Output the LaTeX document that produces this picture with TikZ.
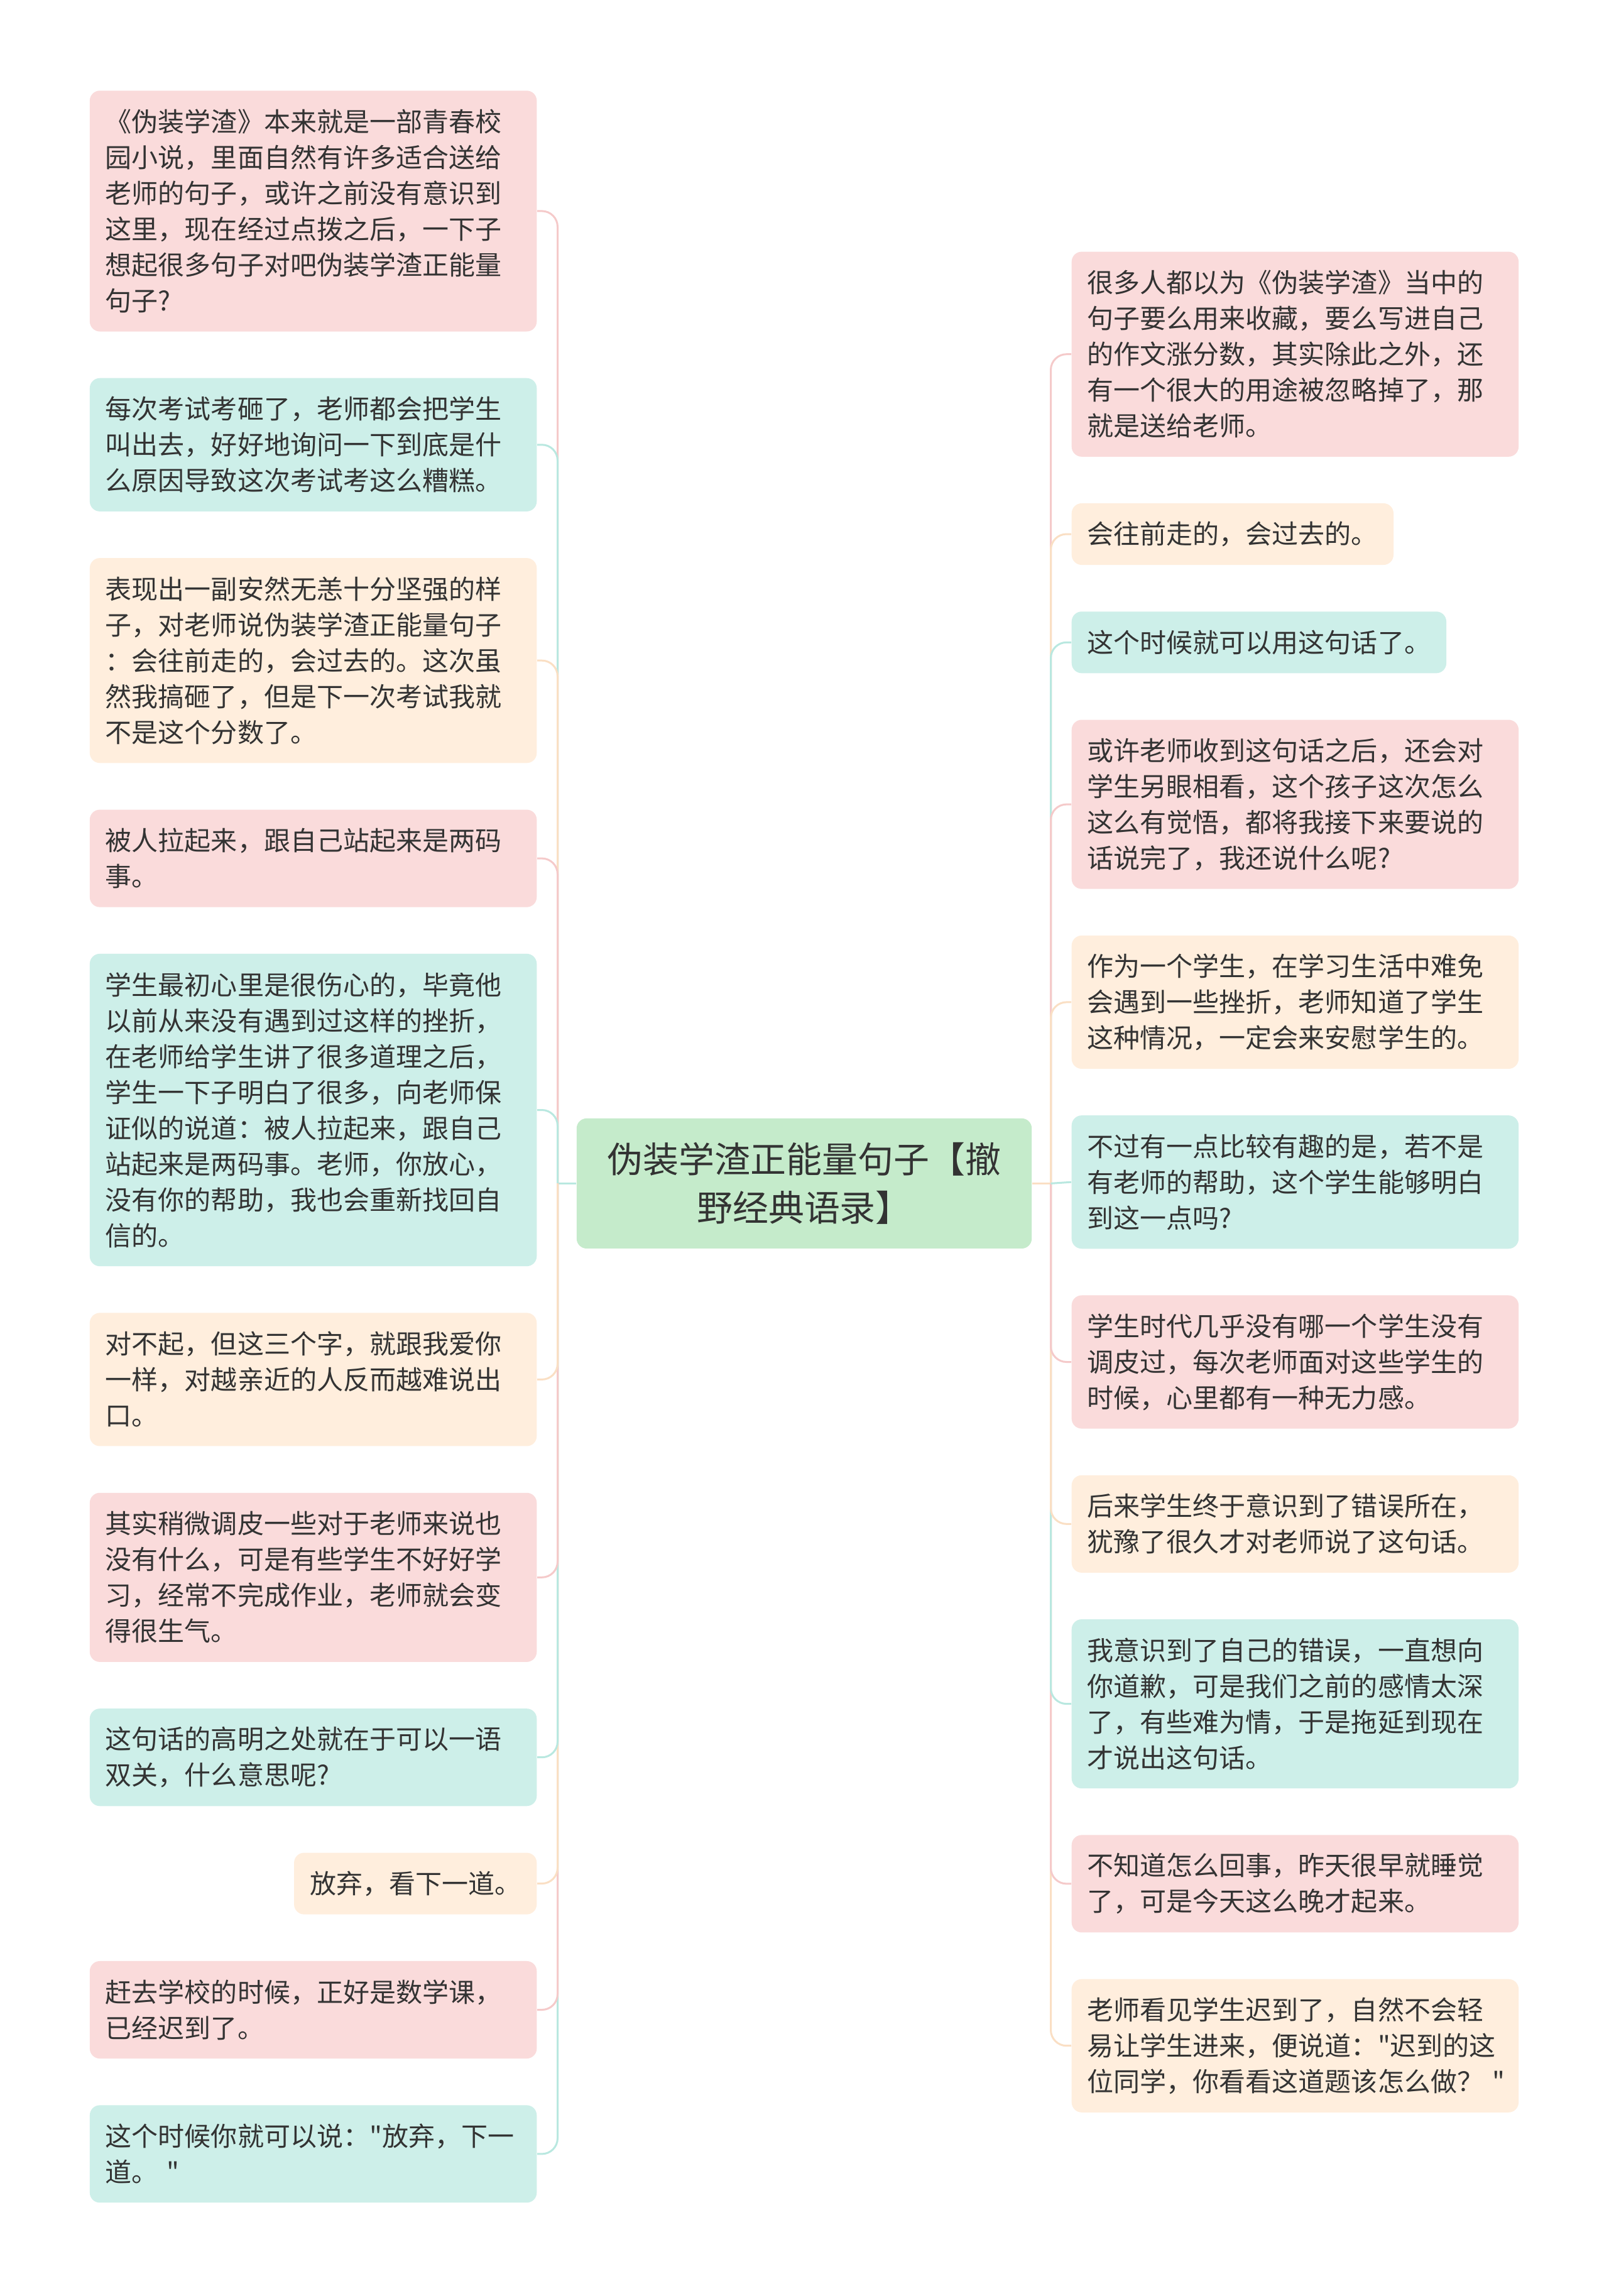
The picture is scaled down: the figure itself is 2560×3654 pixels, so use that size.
\documentclass[tikz,border=0pt]{standalone}
\usepackage{fontspec}
\setmainfont{Noto Sans CJK SC}[Ligatures=TeXOff]
\definecolor{pinkfill}{HTML}{FADBDB}
\definecolor{cyanfill}{HTML}{CDEFE9}
\definecolor{peachfill}{HTML}{FFEEDD}
\definecolor{centerfill}{HTML}{C5EBCB}
\definecolor{pinkline}{HTML}{F5CACA}
\definecolor{cyanline}{HTML}{B9E8E0}
\definecolor{peachline}{HTML}{FADFC4}
\definecolor{txt}{HTML}{333333}
\begin{document}
\begin{tikzpicture}[x=0.01cm,y=-0.01cm,
  box/.style={rectangle, rounded corners=0.16cm, inner xsep=0.25cm, inner ysep=0pt,
    text=txt, align=left, font=\fontsize{11.95}{16.2}\selectfont},
  wide/.style={box, text width=6.61cm},
  nl/.style={minimum height={#1*0.57cm+0.41cm}},
  pk/.style={fill=pinkfill}, cy/.style={fill=cyanfill}, pc/.style={fill=peachfill},
  lft/.style={anchor=east}, rgt/.style={anchor=west},
  conn/.style={line width=0.03cm, rounded corners=0.25cm},
  cpk/.style={conn, draw=pinkline}, ccy/.style={conn, draw=cyanline}, cpc/.style={conn, draw=peachline},
  centerbox/.style={rectangle, rounded corners=0.16cm, fill=centerfill, text=txt, align=center,
    minimum width=7.24cm, minimum height=2.07cm, inner sep=0pt,
    font=\fontsize{16.2}{21.9}\selectfont}
]
\useasboundingbox (0,0) rectangle (2560,3654);
\fill[white] (0,0) rectangle (2560,3654);

% center
\node[centerbox] (C) at (1280,1883.4) {伪装学渣正能量句子【撤\\野经典语录】};
\coordinate (jl) at (887.5,1883.4);
\coordinate (jr) at (1672.5,1883.4);

% left nodes
\node[wide,pk,nl=6,lft] (L1) at (855,335.9) {《伪装学渣》本来就是一部青春校\\园小说，里面自然有许多适合送给\\老师的句子，或许之前没有意识到\\这里，现在经过点拨之后，一下子\\想起很多句子对吧伪装学渣正能量\\句子?};
\node[wide,cy,nl=3,lft] (L2) at (855,707.8) {每次考试考砸了，老师都会把学生\\叫出去，好好地询问一下到底是什\\么原因导致这次考试考这么糟糕。};
\node[wide,pc,nl=5,lft] (L3) at (855,1051.2) {表现出一副安然无恙十分坚强的样\\子，对老师说伪装学渣正能量句子\\：会往前走的，会过去的。这次虽\\然我搞砸了，但是下一次考试我就\\不是这个分数了。};
\node[wide,pk,nl=2,lft] (L4) at (855,1366.1) {被人拉起来，跟自己站起来是两码\\事。};
\node[wide,cy,nl=8,lft] (L5) at (855,1766.5) {学生最初心里是很伤心的，毕竟他\\以前从来没有遇到过这样的挫折，\\在老师给学生讲了很多道理之后，\\学生一下子明白了很多，向老师保\\证似的说道：被人拉起来，跟自己\\站起来是两码事。老师，你放心，\\没有你的帮助，我也会重新找回自\\信的。};
\node[wide,pc,nl=3,lft] (L6) at (855,2195.4) {对不起，但这三个字，就跟我爱你\\一样，对越亲近的人反而越难说出\\口。};
\node[wide,pk,nl=4,lft] (L7) at (855,2510.3) {其实稍微调皮一些对于老师来说也\\没有什么，可是有些学生不好好学\\习，经常不完成作业，老师就会变\\得很生气。};
\node[wide,cy,nl=2,lft] (L8) at (855,2796.7) {这句话的高明之处就在于可以一语\\双关，什么意思呢?};
\node[box,pc,nl=1,lft] (L9) at (855,2997.6) {放弃，看下一道。};
\node[wide,pk,nl=2,lft] (L10) at (855,3198.5) {赶去学校的时候，正好是数学课，\\已经迟到了。};
\node[wide,cy,nl=2,lft] (L11) at (855,3427.9) {这个时候你就可以说："放弃，下一\\道。~"};

% right nodes
\node[wide,pk,nl=5,rgt] (R1) at (1705,563.7) {很多人都以为《伪装学渣》当中的\\句子要么用来收藏，要么写进自己\\的作文涨分数，其实除此之外，还\\有一个很大的用途被忽略掉了，那\\就是送给老师。};
\node[box,pc,nl=1,rgt] (R2) at (1705,850) {会往前走的，会过去的。};
\node[box,cy,nl=1,rgt] (R3) at (1705,1022.3) {这个时候就可以用这句话了。};
\node[wide,pk,nl=4,rgt] (R4) at (1705,1280.1) {或许老师收到这句话之后，还会对\\学生另眼相看，这个孩子这次怎么\\这么有觉悟，都将我接下来要说的\\话说完了，我还说什么呢?};
\node[wide,pc,nl=3,rgt] (R5) at (1705,1594.9) {作为一个学生，在学习生活中难免\\会遇到一些挫折，老师知道了学生\\这种情况，一定会来安慰学生的。};
\node[wide,cy,nl=3,rgt] (R6) at (1705,1881.2) {不过有一点比较有趣的是，若不是\\有老师的帮助，这个学生能够明白\\到这一点吗?};
\node[wide,pk,nl=3,rgt] (R7) at (1705,2167.5) {学生时代几乎没有哪一个学生没有\\调皮过，每次老师面对这些学生的\\时候，心里都有一种无力感。};
\node[wide,pc,nl=2,rgt] (R8) at (1705,2425.3) {后来学生终于意识到了错误所在，\\犹豫了很久才对老师说了这句话。};
\node[wide,cy,nl=4,rgt] (R9) at (1705,2711.6) {我意识到了自己的错误，一直想向\\你道歉，可是我们之前的感情太深\\了，有些难为情，于是拖延到现在\\才说出这句话。};
\node[wide,pk,nl=2,rgt] (R10) at (1705,2997.9) {不知道怎么回事，昨天很早就睡觉\\了，可是今天这么晚才起来。};
\node[wide,pc,nl=3,rgt] (R11) at (1705,3255.7) {老师看见学生迟到了，自然不会轻\\易让学生进来，便说道："迟到的这\\位同学，你看看这道题该怎么做？~"};

% connectors left
\draw[ccy] (C.west) -- (jl);
\draw[cpk] (jl) |- (L1.east);
\draw[ccy] (jl) |- (L2.east);
\draw[cpc] (jl) |- (L3.east);
\draw[cpk] (jl) |- (L4.east);
\draw[ccy] (jl) |- (L5.east);
\draw[ccy] (jl) |- (L11.east);
\draw[cpk] (jl) |- (L10.east);
\draw[cpc] (jl) |- (L9.east);
\draw[ccy] (jl) |- (L8.east);
\draw[cpk] (jl) |- (L7.east);
\draw[cpc] (jl) |- (L6.east);
% connectors right
\draw[cpc] (C.east) -- (jr);
\draw[cpk] (jr) |- (R1.west);
\draw[cpc] (jr) |- (R2.west);
\draw[ccy] (jr) |- (R3.west);
\draw[cpk] (jr) |- (R4.west);
\draw[cpc] (jr) |- (R5.west);
\draw[cpc] (jr) |- (R11.west);
\draw[cpk] (jr) |- (R10.west);
\draw[ccy] (jr) |- (R9.west);
\draw[cpc] (jr) |- (R8.west);
\draw[cpk] (jr) |- (R7.west);
\draw[ccy] (jr) -- (R6.west);
\end{tikzpicture}
\end{document}
